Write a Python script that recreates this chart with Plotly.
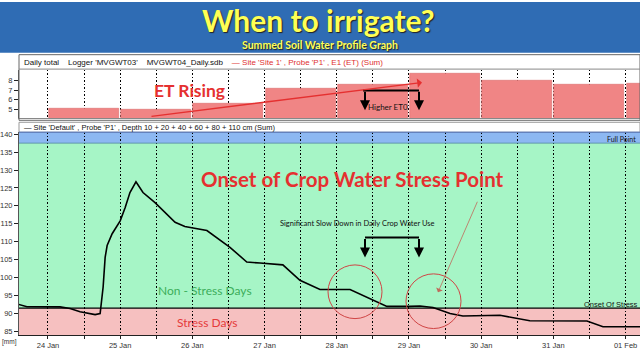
import plotly.graph_objects as go

# ---------------- data ----------------
et_dates = ['2014-01-24', '2014-01-25', '2014-01-26', '2014-01-27', '2014-01-28',
            '2014-01-29', '2014-01-30', '2014-01-31', '2014-02-01']
et_values = [5.05, 4.95, 5.6, 7.15, 7.55, 8.75, 7.95, 7.6, 7.7]

sw_times = ['2014-01-23 12:00', '2014-01-23 17:00', '2014-01-24 04:00', '2014-01-24 07:20',
            '2014-01-24 10:40', '2014-01-24 15:40', '2014-01-24 17:20', '2014-01-24 18:20',
            '2014-01-24 19:00', '2014-01-24 19:40', '2014-01-24 21:20', '2014-01-25 00:00',
            '2014-01-25 01:40', '2014-01-25 03:15', '2014-01-25 05:15', '2014-01-25 07:35',
            '2014-01-25 11:35', '2014-01-25 14:55', '2014-01-25 18:15', '2014-01-25 21:30',
            '2014-01-26 02:30', '2014-01-26 04:50', '2014-01-26 12:30', '2014-01-26 18:05',
            '2014-01-26 22:30', '2014-01-27 06:05', '2014-01-27 11:45', '2014-01-27 18:25',
            '2014-01-28 04:25', '2014-01-28 11:00', '2014-01-28 16:40', '2014-01-29 00:20',
            '2014-01-29 03:40', '2014-01-29 08:00', '2014-01-29 13:40', '2014-01-29 17:55',
            '2014-01-30 06:15', '2014-01-30 16:10', '2014-01-31 11:10', '2014-01-31 16:30',
            '2014-02-01 05:00']
sw_values = [93.0, 91.8, 91.75, 91.3, 90.4, 89.6, 89.9, 97.3, 105.6, 108.9, 112.2, 115.8,
             119.5, 123.7, 126.7, 123.7, 120.9, 118.1, 115.4, 114.2, 113.5, 113.1, 108.4,
             104.3, 104.0, 103.5, 99.2, 96.6, 96.6, 94.1, 91.9, 91.9, 92.0, 91.6, 89.9,
             89.2, 89.4, 87.9, 87.8, 86.2, 86.2]

full_point = 137.5
onset_of_stress = 91.4
main_ticks = [140, 135, 130, 125, 120, 115, 110, 105, 100, 95, 90, 85]
et_ticks = [5, 6, 7, 8]

# ---------------- geometry helpers (pixel -> paper) ----------------
W, H = 640, 350
L, R, T, B = 19, 0, 0, 15
def px(x):
    return (x - L) / (W - L - R)
def py(y):
    return (H - B - y) / (H - T - B)

y_lo, y_hi = 83.9, 140.56

fig = go.Figure()
fig.add_trace(go.Bar(
    x=et_dates, y=et_values, xaxis='x2', yaxis='y2',
    xperiod=86400000, xperiodalignment='middle', width=0.97 * 86400000,
    marker=dict(color='#f08585', line=dict(color='#dc6b6b', width=0.6)),
    hoverinfo='skip', showlegend=False))
fig.add_trace(go.Scatter(
    x=sw_times, y=sw_values, xaxis='x', yaxis='y', mode='lines',
    line=dict(color='black', width=1.6), showlegend=False))

dash = '1.5px,2px'
grid = dict(showgrid=True, gridcolor='black', griddash=dash, gridwidth=1)
tfont = dict(family='Liberation Sans, Arial', size=7.5, color='#333')

shapes = []
# title band
shapes.append(dict(type='rect', xref='paper', yref='paper', x0=px(0), x1=px(640), y0=py(0), y1=py(51),
                   fillcolor='#2f6cb4', line=dict(width=0), layer='below'))
# bands in main panel
shapes.append(dict(type='rect', xref='paper', yref='y', x0=0, x1=1, y0=full_point, y1=y_hi,
                   fillcolor='#8db8f2', line=dict(width=0), layer='below'))
shapes.append(dict(type='rect', xref='paper', yref='y', x0=0, x1=1, y0=onset_of_stress, y1=full_point,
                   fillcolor='#a6f5c6', line=dict(width=0), layer='below'))
shapes.append(dict(type='rect', xref='paper', yref='y', x0=0, x1=1, y0=y_lo, y1=onset_of_stress,
                   fillcolor='#f6c0c0', line=dict(width=0), layer='below'))
shapes.append(dict(type='line', xref='paper', yref='y', x0=0, x1=1, y0=full_point, y1=full_point,
                   line=dict(color='#4a8a9a', width=0.8)))
shapes.append(dict(type='line', xref='paper', yref='y', x0=0, x1=1, y0=onset_of_stress, y1=onset_of_stress,
                   line=dict(color='black', width=1.3)))
# panel frames
shapes.append(dict(type='rect', xref='paper', yref='paper', x0=px(L), x1=px(640), y0=py(53), y1=py(119),
                   line=dict(color='#666', width=1)))
shapes.append(dict(type='line', xref='paper', yref='paper', x0=px(L), x1=px(640), y0=py(67.5), y1=py(67.5),
                   line=dict(color='#888', width=1)))
shapes.append(dict(type='rect', xref='paper', yref='paper', x0=px(L), x1=px(640), y0=py(121), y1=py(131),
                   line=dict(color='#999', width=1)))
shapes.append(dict(type='line', xref='paper', yref='paper', x0=px(L), x1=px(640), y0=py(131), y1=py(131),
                   line=dict(color='#4a70c0', width=1)))
# red circles
for cx, cy, r in [(355, 291.5, 27), (433.5, 301, 27.5)]:
    shapes.append(dict(type='circle', xref='paper', yref='paper', x0=px(cx - r), x1=px(cx + r),
                       y0=py(cy + r), y1=py(cy - r), line=dict(color='#d04545', width=1)))
# black brackets
shapes.append(dict(type='line', xref='paper', yref='paper', x0=px(365), x1=px(419), y0=py(237), y1=py(237),
                   line=dict(color='black', width=2)))
shapes.append(dict(type='line', xref='paper', yref='paper', x0=px(363), x1=px(419), y0=py(89), y1=py(89),
                   line=dict(color='black', width=2)))

ann = []
def text(x, y, s, size, color, bold=False, xanchor='center', family='Lato', shadow=None):
    f = dict(family=family, size=size, color=color)
    if bold:
        f['weight'] = 'bold'
    if shadow:
        f['shadow'] = shadow
    ann.append(dict(xref='paper', yref='paper', x=px(x), y=py(y), text=s, showarrow=False,
                    xanchor=xanchor, yanchor='middle', font=f))

def arrow(x, y, ax, ay, color, width, head=2, size=1.0):
    ann.append(dict(xref='paper', yref='paper', x=px(x), y=py(y), ax=ax, ay=ay, text='',
                    showarrow=True, arrowhead=head, arrowsize=size, arrowwidth=width,
                    arrowcolor=color))

text(318, 18, 'When to irrigate?', 30, '#ffff55', bold=True, shadow='1px 1px 1px #222')
text(320, 43, 'Summed Soil Water Profile Graph', 10.5, '#ffff55', bold=True, shadow='1px 1px 1px #222')
text(L + 3, 61, "Daily total    Logger 'MVGWT03'    MVGWT04_Daily.sdb    "
     "<span style='color:#e03030'>\u2014 Site 'Site 1' , Probe 'P1' , E1 (ET) (Sum)</span>",
     8, '#111', xanchor='left', family='Liberation Sans, Arial')
text(L + 3, 126, "\u2014 Site 'Default' , Probe 'P1' , Depth 10 + 20 + 40 + 60 + 80 + 110 cm (Sum)",
     7.5, '#111', xanchor='left', family='Liberation Sans, Arial')
text(189, 89, 'ET Rising', 17.5, '#e53030', bold=True)
text(388, 106, 'Higher ET0', 8, '#111')
text(353, 178, 'Onset of Crop Water Stress Point', 20.5, '#e53030', bold=True)
text(357, 223, 'Significant Slow Down in Daily Crop Water Use', 7.5, '#111')
text(205, 290, 'Non - Stress Days', 12, '#3cae5a')
text(207, 322, 'Stress Days', 12, '#e53a3a')
text(638, 138, 'Full Point', 7, '#111', xanchor='right')
text(640, 304, 'Onset Of Stress', 7.5, '#111', xanchor='right', family='Liberation Sans, Arial')
text(0, 342, '[mm]', 6.5, '#333', xanchor='left', family='Liberation Sans, Arial')

# arrows
arrow(422, 81, -272, 34, '#e53030', 1.3, head=1, size=1.2)
arrow(365, 257, 0, -20, 'black', 2, head=2, size=1.0)
arrow(419, 257, 0, -20, 'black', 2, head=2, size=1.0)
arrow(365, 109, 0, -20, 'black', 2, head=2, size=1.0)
arrow(419, 109, 0, -20, 'black', 2, head=2, size=1.0)
arrow(438, 292, 40, -92, '#c06a5a', 0.8, head=1, size=1.5)

xr = ['2014-01-23 14:22', '2014-02-01 04:48']
fig.update_layout(
    width=W, height=H, margin=dict(l=L, r=R, t=T, b=B),
    paper_bgcolor='white', plot_bgcolor='white', showlegend=False, bargap=0,
    xaxis=dict(domain=[0, 1], anchor='y', type='date', range=xr, tick0='2014-01-24', dtick=86400000,
               tickformat='%d %b', ticks='outside', ticklen=3, tickcolor='#222', tickfont=tfont,
               showline=True, linecolor='#222', zeroline=False, automargin=False,
               minor=dict(dtick=43200000, ticks='outside', ticklen=3, tickcolor='#222',
                          showgrid=True, gridcolor='black', griddash=dash, gridwidth=1),
               **grid),
    xaxis2=dict(domain=[0, 1], anchor='y2', type='date', matches='x', range=xr, tick0='2014-01-24',
                dtick=86400000, showticklabels=False, ticks='', zeroline=False, showline=True,
                linecolor='#888',
                minor=dict(dtick=43200000, showgrid=True, gridcolor='black', griddash=dash, gridwidth=1),
                **grid),
    yaxis=dict(domain=[0, py(131)], range=[y_lo, y_hi], tickmode='array', tickvals=main_ticks,
               ticktext=[str(v) for v in main_ticks], ticks='outside', ticklen=4, tickcolor='#222',
               tickfont=tfont, showgrid=False, zeroline=False, showline=True, linecolor='#555'),
    yaxis2=dict(domain=[py(117), py(68)], range=[4.07, 9.14], tickmode='array', tickvals=et_ticks,
                ticks='outside', ticklen=4, tickcolor='#222', tickfont=tfont, showgrid=False,
                zeroline=False, showline=True, linecolor='#555'),
    shapes=shapes, annotations=ann,
)
fig.write_html('out.html')
